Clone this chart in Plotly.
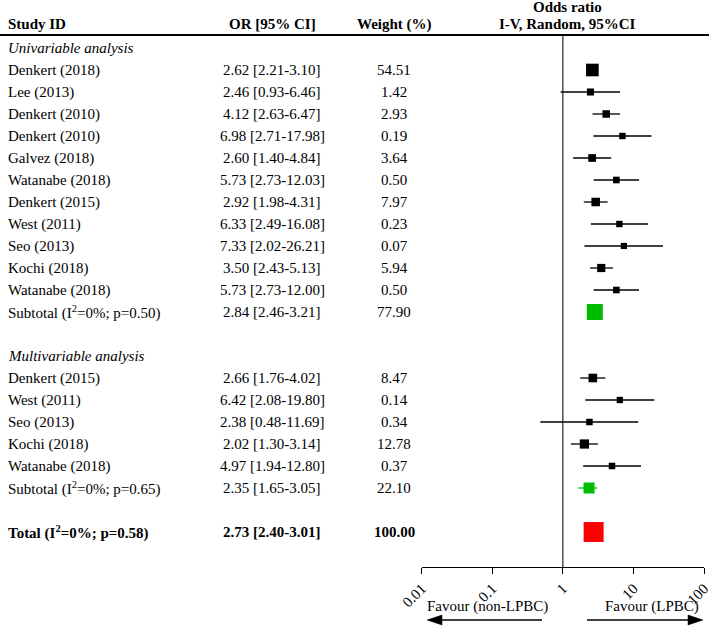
import plotly.graph_objects as go
import numpy as np

# ---------------- data ----------------
uni_studies = ["Denkert (2018)", "Lee (2013)", "Denkert (2010)", "Denkert (2010)", "Galvez (2018)",
               "Watanabe (2018)", "Denkert (2015)", "West (2011)", "Seo (2013)", "Kochi (2018)",
               "Watanabe (2018)"]
uni_or = [2.62, 2.46, 4.12, 6.98, 2.60, 5.73, 2.92, 6.33, 7.33, 3.50, 5.73]
uni_lo = [2.21, 0.93, 2.63, 2.71, 1.40, 2.73, 1.98, 2.49, 2.02, 2.43, 2.73]
uni_hi = [3.10, 6.46, 6.47, 17.98, 4.84, 12.03, 4.31, 16.08, 26.21, 5.13, 12.00]
uni_w = [54.51, 1.42, 2.93, 0.19, 3.64, 0.50, 7.97, 0.23, 0.07, 5.94, 0.50]

multi_studies = ["Denkert (2015)", "West (2011)", "Seo (2013)", "Kochi (2018)", "Watanabe (2018)"]
multi_or = [2.66, 6.42, 2.38, 2.02, 4.97]
multi_lo = [1.76, 2.08, 0.48, 1.30, 1.94]
multi_hi = [4.02, 19.80, 11.69, 3.14, 12.80]
multi_w = [8.47, 0.14, 0.34, 12.78, 0.37]

uni_sub = {"label": "Subtotal (I<sup>2</sup>=0%; p=0.50)", "or": 2.84, "lo": 2.46, "hi": 3.21, "w": 77.90}
multi_sub = {"label": "Subtotal (I<sup>2</sup>=0%; p=0.65)", "or": 2.35, "lo": 1.65, "hi": 3.05, "w": 22.10}
total = {"label": "Total (I<sup>2</sup>=0%; p=0.58)", "or": 2.73, "lo": 2.40, "hi": 3.01, "w": 100.00}

tick_vals = [0.01, 0.1, 1, 10, 100]
tick_text = ["0.01", "0.1", "1", "10", "100"]

# ---------------- layout constants ----------------
W, H = 709, 627
AXIS_PX = 567          # pixel row of the x axis line
ROW0_PX = 70           # pixel of first study row
PITCH = 22             # row pitch in px
FONT = "Liberation Serif"
FS = 15


def px2paper_x(px):
    return px / W


def py2paper_y(py):
    return (AXIS_PX - py) / AXIS_PX


def py2row(py):
    return (py - ROW0_PX) / PITCH


# row assignment
uni_label_row = -1
uni_rows = list(range(len(uni_studies)))
uni_sub_row = len(uni_studies)
multi_label_row = uni_sub_row + 2
multi_rows = [multi_label_row + 1 + i for i in range(len(multi_studies))]
multi_sub_row = multi_rows[-1] + 1
total_row = multi_sub_row + 2

fig = go.Figure()


def add_ci(lo, hi, rows, color, width=1.3):
    xs, ys = [], []
    for l, h, r in zip(lo, hi, rows):
        xs += [l, h, None]
        ys += [r, r, None]
    fig.add_trace(go.Scatter(x=xs, y=ys, mode="lines", line=dict(color=color, width=width),
                             hoverinfo="skip", showlegend=False, cliponaxis=False))


def add_squares(vals, rows, sizes, color):
    fig.add_trace(go.Scatter(x=vals, y=rows, mode="markers",
                             marker=dict(symbol="square", size=sizes, color=color, opacity=1,
                                         line=dict(width=0)),
                             hoverinfo="skip", showlegend=False, cliponaxis=False))


def size_from_w(ws):
    return [6 + 0.9 * np.sqrt(w) for w in ws]


# study CIs and squares
add_ci(uni_lo, uni_hi, uni_rows, "black")
add_ci(multi_lo, multi_hi, multi_rows, "black")
add_squares(uni_or, uni_rows, size_from_w(uni_w), "black")
add_squares(multi_or, multi_rows, size_from_w(multi_w), "black")

# summaries
add_ci([uni_sub["lo"]], [uni_sub["hi"]], [uni_sub_row], "#00BB00")
add_squares([uni_sub["or"]], [uni_sub_row], [16], "#00BB00")
add_ci([multi_sub["lo"]], [multi_sub["hi"]], [multi_sub_row], "#00BB00")
add_squares([multi_sub["or"]], [multi_sub_row], [11], "#00BB00")
add_ci([total["lo"]], [total["hi"]], [total_row], "#FF0000")
add_squares([total["or"]], [total_row], [20], "#FF0000")

# ---------------- text table ----------------
ann = []
X_STUDY = px2paper_x(6)
X_OR = px2paper_x(272)
X_W = px2paper_x(394)


def txt(x, y, s, anchor="center", bold=False, italic=False):
    if bold:
        s = "<b>" + s + "</b>"
    if italic:
        s = "<i>" + s + "</i>"
    ann.append(dict(x=x, y=y, xref="paper", yref="y", text=s, showarrow=False,
                    xanchor=anchor, yanchor="middle",
                    font=dict(family=FONT, size=FS, color="black")))


def fmt_or(o, l, h):
    return f"{o:.2f} [{l:.2f}-{h:.2f}]"


# headers
hdr_row = py2row(24)
txt(X_STUDY, hdr_row, "Study ID", "left", bold=True)
txt(X_OR, hdr_row, "OR [95% CI]", bold=True)
txt(X_W, hdr_row, "Weight (%)", bold=True)
txt(px2paper_x(567), py2row(7), "Odds ratio", bold=True)
txt(px2paper_x(567), py2row(24), "I-V, Random, 95%CI", bold=True)

txt(X_STUDY, uni_label_row, "Univariable analysis", "left", italic=True)
for s, o, l, h, w, r in zip(uni_studies, uni_or, uni_lo, uni_hi, uni_w, uni_rows):
    txt(X_STUDY, r, s, "left")
    txt(X_OR, r, fmt_or(o, l, h))
    txt(X_W, r, f"{w:.2f}")
txt(X_STUDY, uni_sub_row, uni_sub["label"], "left")
txt(X_OR, uni_sub_row, fmt_or(uni_sub["or"], uni_sub["lo"], uni_sub["hi"]))
txt(X_W, uni_sub_row, f"{uni_sub['w']:.2f}")

txt(X_STUDY, multi_label_row, "Multivariable analysis", "left", italic=True)
for s, o, l, h, w, r in zip(multi_studies, multi_or, multi_lo, multi_hi, multi_w, multi_rows):
    txt(X_STUDY, r, s, "left")
    txt(X_OR, r, fmt_or(o, l, h))
    txt(X_W, r, f"{w:.2f}")
txt(X_STUDY, multi_sub_row, multi_sub["label"], "left")
txt(X_OR, multi_sub_row, fmt_or(multi_sub["or"], multi_sub["lo"], multi_sub["hi"]))
txt(X_W, multi_sub_row, f"{multi_sub['w']:.2f}")

txt(X_STUDY, total_row, total["label"], "left", bold=True)
txt(X_OR, total_row, fmt_or(total["or"], total["lo"], total["hi"]), bold=True)
txt(X_W, total_row, f"{total['w']:.2f}", bold=True)

# favour labels
for xc, s in [(487, "Favour (non-LPBC)"), (652, "Favour (LPBC)")]:
    ann.append(dict(x=px2paper_x(xc), y=py2paper_y(606), xref="paper", yref="paper", text=s,
                    showarrow=False, xanchor="center", yanchor="middle",
                    font=dict(family=FONT, size=FS, color="black")))

# ---------------- shapes ----------------
shapes = []
# header rule
shapes.append(dict(type="line", xref="paper", yref="paper", x0=0, x1=1,
                   y0=py2paper_y(35), y1=py2paper_y(35), line=dict(color="black", width=2)))
# null line
shapes.append(dict(type="line", xref="x", yref="paper", x0=1, x1=1,
                   y0=0, y1=py2paper_y(36), line=dict(color="#222", width=1.2)))
# arrows
ay = py2paper_y(620)
hh = 5 / AXIS_PX
shapes.append(dict(type="line", xref="paper", yref="paper", x0=px2paper_x(440), x1=px2paper_x(542),
                   y0=ay, y1=ay, line=dict(color="black", width=1.3)))
shapes.append(dict(type="path", xref="paper", yref="paper",
                   path=f"M{px2paper_x(427)},{ay} L{px2paper_x(442)},{ay + hh} L{px2paper_x(442)},{ay - hh} Z",
                   fillcolor="black", line=dict(color="black", width=0.5)))
shapes.append(dict(type="line", xref="paper", yref="paper", x0=px2paper_x(587), x1=px2paper_x(689),
                   y0=ay, y1=ay, line=dict(color="black", width=1.3)))
shapes.append(dict(type="path", xref="paper", yref="paper",
                   path=f"M{px2paper_x(703)},{ay} L{px2paper_x(688)},{ay + hh} L{px2paper_x(688)},{ay - hh} Z",
                   fillcolor="black", line=dict(color="black", width=0.5)))

fig.update_layout(
    width=W, height=H,
    margin=dict(l=0, r=0, t=0, b=H - AXIS_PX, pad=0, autoexpand=False),
    paper_bgcolor="white", plot_bgcolor="white",
    showlegend=False, hovermode=False,
    annotations=ann, shapes=shapes,
    xaxis=dict(type="log", range=[-2, 2], domain=[421.7 / W, 704 / W],
               tickvals=tick_vals, ticktext=tick_text, tickangle=-45,
               ticks="outside", ticklen=6, tickwidth=1, tickcolor="black",
               ticklabeloverflow="allow",
               showline=True, linecolor="black", linewidth=1,
               showgrid=False, zeroline=False, automargin=False,
               tickfont=dict(family=FONT, size=FS, color="black")),
    yaxis=dict(range=[py2row(AXIS_PX), py2row(0)], visible=False, showgrid=False, zeroline=False,
               automargin=False),
)

fig.write_html("out.html", config={"displayModeBar": False},
               post_script="document.body.style.margin='0';document.body.style.padding='0';")
